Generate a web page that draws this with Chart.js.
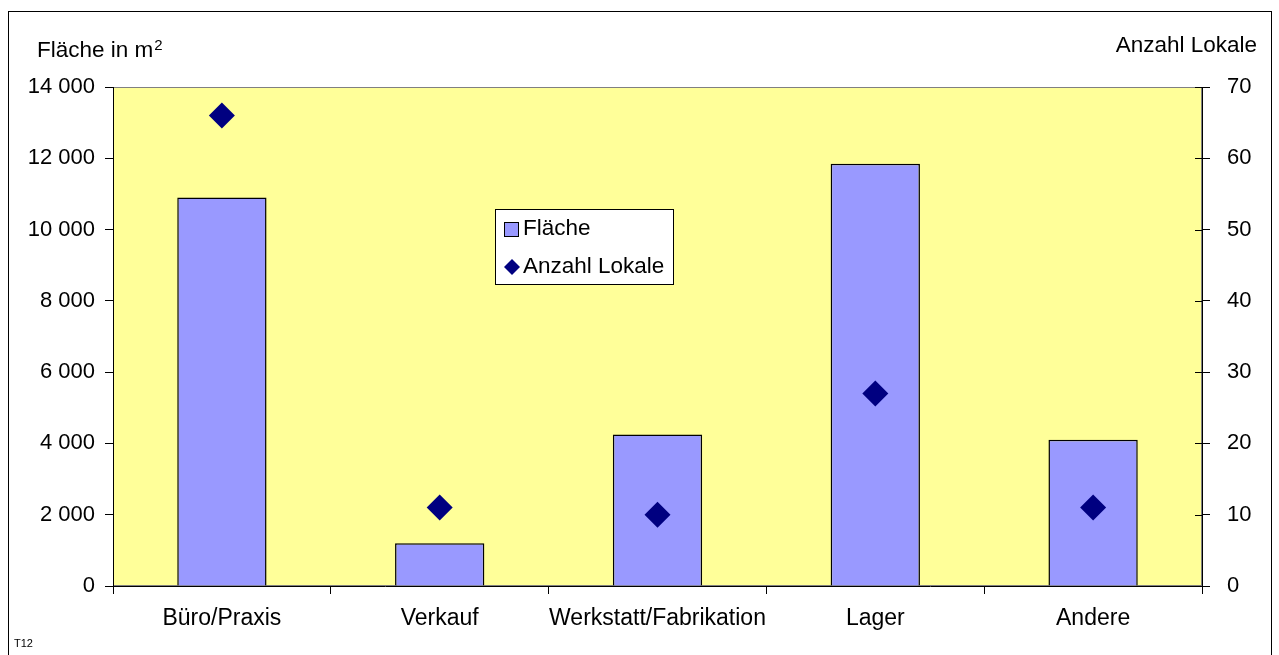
<!DOCTYPE html>
<html>
<head>
<meta charset="utf-8">
<title>Fläche und Anzahl Lokale</title>
<script src="https://cdn.jsdelivr.net/npm/chart.js@4.4.1/dist/chart.umd.min.js"></script>
<style>
  html, body { margin: 0; padding: 0; background: #ffffff; }
  #wrap { position: relative; width: 1279px; height: 655px; }
</style>
</head>
<body>
<div id="wrap"><canvas id="chart" width="1279" height="655"></canvas></div>
<script>
// Categories and series
const categories = ['Büro/Praxis', 'Verkauf', 'Werkstatt/Fabrikation', 'Lager', 'Andere'];
const flaeche = [10900, 1200, 4250, 11850, 4100];      // m²
const anzahlLokale = [66, 11, 10, 27, 11];

// Axis ranges and labels
const leftTicks = [0, 2000, 4000, 6000, 8000, 10000, 12000, 14000];
const rightTicks = [0, 10, 20, 30, 40, 50, 60, 70];
const leftTitle = 'Fläche in m';
const leftTitleSup = '2';
const rightTitle = 'Anzahl Lokale';
const seriesNames = ['Fläche', 'Anzahl Lokale'];
const footNote = 'T12';

const FONT = '"Liberation Sans", Arial, sans-serif';
const FS = 22;      // tick numbers
const FS_TXT = 22.5; // titles and legend
const FS_CAT = 23;   // category labels

const fmtThousands = v => String(v).replace(/\B(?=(\d{3})+(?!\d))/g, ' ');

const decor = {
  id: 'decor',
  beforeDraw(chart) {
    const { ctx, chartArea: a } = chart;
    ctx.save();
    ctx.fillStyle = '#ffffff';
    ctx.fillRect(0, 0, chart.width, chart.height);
    ctx.fillStyle = '#FFFF99';
    ctx.fillRect(a.left, a.top, a.right - a.left, a.bottom - a.top);
    ctx.strokeStyle = '#808080';
    ctx.lineWidth = 1;
    ctx.strokeRect(a.left + 0.5, a.top + 0.5, a.right - a.left - 1, a.bottom - a.top - 1);
    ctx.restore();
  },
  afterDraw(chart) {
    const { ctx } = chart;
    ctx.save();
    // secondary axis tick marks cross the axis line
    const r = chart.scales.y1;
    ctx.strokeStyle = '#000000';
    ctx.lineWidth = 1;
    ctx.beginPath();
    r.ticks.forEach(t => {
      const py = Math.round(r.getPixelForValue(t.value)) + 0.5;
      ctx.moveTo(r.left - 7, py);
      ctx.lineTo(r.left, py);
    });
    ctx.stroke();

    // outer frame
    ctx.strokeRect(8.5, 11.5, 1263, 700);

    // axis titles
    ctx.fillStyle = '#000000';
    ctx.textBaseline = 'alphabetic';
    ctx.font = FS_TXT + 'px ' + FONT;
    ctx.textAlign = 'left';
    ctx.fillText(leftTitle, 37, 57);
    const w = ctx.measureText(leftTitle).width;
    ctx.font = '15px ' + FONT;
    ctx.fillText(leftTitleSup, 37 + w + 1, 50);
    ctx.font = FS_TXT + 'px ' + FONT;
    ctx.textAlign = 'right';
    ctx.fillText(rightTitle, 1257, 52);

    // legend
    const lx = 495, ly = 209, lw = 178, lh = 75;
    ctx.fillStyle = '#ffffff';
    ctx.fillRect(lx, ly, lw, lh);
    ctx.strokeStyle = '#000000';
    ctx.strokeRect(lx + 0.5, ly + 0.5, lw, lh);
    // bar swatch
    ctx.fillStyle = '#9999FF';
    ctx.fillRect(504, 222, 14, 14);
    ctx.strokeStyle = '#000000';
    ctx.strokeRect(504.5, 222.5, 14, 14);
    // diamond swatch
    ctx.fillStyle = '#000080';
    ctx.beginPath();
    ctx.moveTo(512, 259); ctx.lineTo(520, 267); ctx.lineTo(512, 275); ctx.lineTo(504, 267);
    ctx.closePath(); ctx.fill();
    ctx.fillStyle = '#000000';
    ctx.textAlign = 'left';
    ctx.font = FS_TXT + 'px ' + FONT;
    ctx.fillText(seriesNames[0], 523, 235);
    ctx.fillText(seriesNames[1], 523, 273);

    // footnote
    ctx.font = '11px ' + FONT;
    ctx.fillText(footNote, 14, 647);
    ctx.restore();
  }
};

new Chart(document.getElementById('chart'), {
  data: {
    labels: categories,
    datasets: [
      {
        type: 'line',
        label: seriesNames[1],
        data: anzahlLokale,
        yAxisID: 'y1',
        showLine: false,
        pointStyle: 'rectRot',
        pointRadius: 13,
        pointHoverRadius: 13,
        pointBackgroundColor: '#000080',
        pointBorderColor: '#000080',
        pointBorderWidth: 0,
        order: 0
      },
      {
        type: 'bar',
        label: seriesNames[0],
        data: flaeche,
        yAxisID: 'y',
        backgroundColor: '#9999FF',
        borderColor: '#000000',
        borderWidth: 1.5,
        categoryPercentage: 1,
        barPercentage: 0.41,
        order: 1
      }
    ]
  },
  options: {
    responsive: false,
    animation: false,
    devicePixelRatio: 1,
    layout: { padding: { top: 87, left: 0, right: 0, bottom: 0 } },
    plugins: { legend: { display: false }, tooltip: { enabled: false } },
    scales: {
      x: {
        offset: true,
        grid: { display: true, offset: true, drawOnChartArea: false, color: '#000000', tickLength: 8 },
        border: { display: true, color: '#000000' },
        ticks: { color: '#000000', font: { family: FONT, size: FS_CAT }, padding: 11, maxRotation: 0, autoSkip: false },
        afterFit(s) { s.height = 69; }
      },
      y: {
        position: 'left',
        min: leftTicks[0],
        max: leftTicks[leftTicks.length - 1],
        afterBuildTicks(s) { s.ticks = leftTicks.map(v => ({ value: v })); },
        grid: { drawOnChartArea: false, color: '#000000', tickLength: 8 },
        border: { display: true, color: '#000000' },
        ticks: { color: '#000000', font: { family: FONT, size: FS }, padding: 10, callback: v => fmtThousands(v) },
        afterFit(s) { s.width = 113; }
      },
      y1: {
        position: 'right',
        min: rightTicks[0],
        max: rightTicks[rightTicks.length - 1],
        afterBuildTicks(s) { s.ticks = rightTicks.map(v => ({ value: v })); },
        grid: { drawOnChartArea: false, color: '#000000', tickLength: 8 },
        border: { display: true, color: '#000000' },
        ticks: { color: '#000000', font: { family: FONT, size: FS }, padding: 17, crossAlign: 'near', callback: v => String(v) },
        afterFit(s) { s.width = 77; }
      }
    }
  },
  plugins: [decor]
});
</script>
</body>
</html>
